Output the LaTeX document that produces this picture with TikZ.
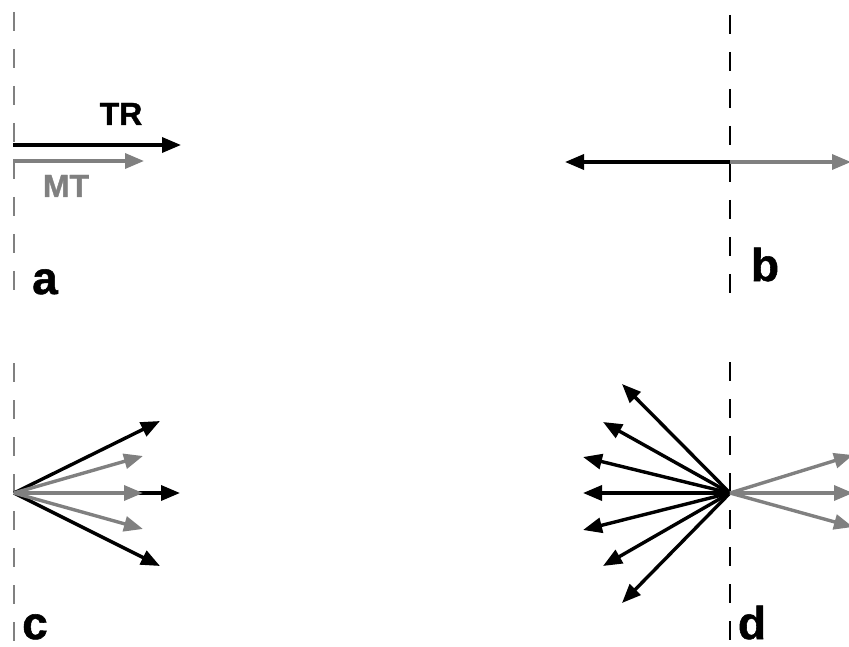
\documentclass[tikz,border=0pt]{standalone}
\usepackage{fontspec}
\setmainfont{Liberation Sans}[BoldFeatures={FakeBold=1.2}]
\usetikzlibrary{arrows.meta}
\definecolor{mtgray}{HTML}{808080}
\tikzset{
  blk/.style={line width=3.4pt,black,-{Triangle[length=19pt,width=15pt]}},
  gry/.style={line width=3.4pt,mtgray,-{Triangle[length=19pt,width=15pt]}},
  guide/.style={line width=1.3pt,dash pattern=on 19pt off 18pt},
  lbl/.style={font=\fontsize{32}{32}\selectfont\bfseries,inner sep=0pt,anchor=base},
  panel/.style={font=\fontsize{46}{46}\selectfont\bfseries,inner sep=0pt,anchor=base}
}
\begin{document}
\begin{tikzpicture}[x=1pt,y=-1pt]
\useasboundingbox (0,0) rectangle (849,647);
\clip (0,0) rectangle (849,647);
% guide lines
\coordinate (a1) at (14,12); \coordinate (a2) at (14,296);
\coordinate (b1) at (730,15); \coordinate (b2) at (730,296);
\coordinate (c1) at (14,363); \coordinate (c2) at (14,647);
\coordinate (d1) at (730,362); \coordinate (d2) at (730,647);
\draw[guide,mtgray] (a1) -- (a2);
\draw[guide,black] (b1) -- (b2);
\draw[guide,mtgray] (c1) -- (c2);
\draw[guide,black] (d1) -- (d2);
% panel a
\coordinate (aTR0) at (13,145); \coordinate (aTR1) at (181,145);
\coordinate (aMT0) at (13,161); \coordinate (aMT1) at (144,161);
\draw[blk] (aTR0) -- (aTR1);
\draw[gry] (aMT0) -- (aMT1);
\node[lbl] (tr) at (121,125) {TR};
\node[lbl,text=mtgray] (mt) at (66,197) {MT};
\node[panel] (la) at (45,294) {a};
% panel b
\coordinate (bo) at (730,162);
\coordinate (bL) at (565,162); \coordinate (bR) at (851,162);
\draw[blk] (bo) -- (bL);
\draw[gry] (bo) -- (bR);
\node[panel] (lb) at (765,281) {b};
% panel c
\coordinate (co) at (14,493);
\coordinate (cb1) at (160,421); \coordinate (cb2) at (180,493); \coordinate (cb3) at (160,566);
\coordinate (cg1) at (143,456); \coordinate (cg2) at (143,493); \coordinate (cg3) at (143,529);
\draw[blk] (co) -- (cb2);
\draw[blk] (co) -- (cb1);
\draw[blk] (co) -- (cb3);
\draw[gry] (co) -- (cg1);
\draw[gry] (co) -- (cg2);
\draw[gry] (co) -- (cg3);
\node[panel] (lc) at (35,639) {c};
% panel d
\coordinate (do) at (730,493);
\coordinate (db1) at (622,384); \coordinate (db2) at (603,422); \coordinate (db3) at (583,457);
\coordinate (db4) at (583,493);
\coordinate (db5) at (583,530); \coordinate (db6) at (603,566); \coordinate (db7) at (622,603);
\coordinate (dg1) at (853,455); \coordinate (dg2) at (853,493); \coordinate (dg3) at (853,527);
\foreach \t in {db1,db2,db3,db4,db5,db6,db7} \draw[blk] (do) -- (\t);
\foreach \t in {dg1,dg2,dg3} \draw[gry] (do) -- (\t);
\node[panel] (ld) at (752,639) {d};
\end{tikzpicture}
\end{document}
